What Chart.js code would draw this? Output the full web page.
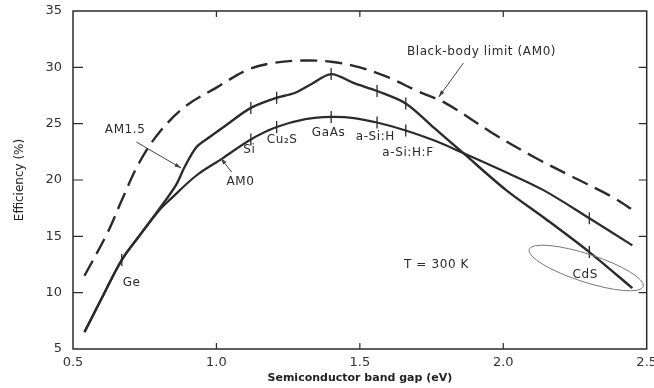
<!DOCTYPE html>
<html>
<head>
<meta charset="utf-8">
<script src="https://cdn.jsdelivr.net/npm/chart.js@4.4.1/dist/chart.umd.min.js"></script>
<style>
  html, body { margin: 0; padding: 0; background: #fff; }
  #wrap { width: 654px; height: 388px; }
</style>
</head>
<body>
<div id="wrap"><canvas id="myChart" width="654" height="388"></canvas></div>
<script>
// curva de cuerpo negro (discontinua)
const bbX = [0.54, 0.62, 0.67, 0.73, 0.80, 0.89, 1.00, 1.11, 1.20, 1.30, 1.40, 1.50, 1.60, 1.70, 1.80, 1.96, 2.11, 2.24, 2.38, 2.46]
const bbY = [11.5, 15.3, 18.2, 21.5, 24.2, 26.5, 28.2, 29.8, 30.4, 30.6, 30.5, 30.0, 29.1, 27.9, 26.8, 24.2, 22.0, 20.3, 18.5, 17.2]

// AM1.5
const am15X = [0.54, 0.60, 0.67, 0.73, 0.80, 0.86, 0.89, 0.93, 0.97, 1.03, 1.12, 1.21, 1.27, 1.33, 1.40, 1.48, 1.56, 1.66, 1.76, 1.86, 2.01, 2.15, 2.30, 2.45]
const am15Y = [6.5, 9.5, 12.9, 15.0, 17.4, 19.6, 21.2, 22.9, 23.7, 24.8, 26.4, 27.3, 27.7, 28.5, 29.4, 28.6, 27.9, 26.8, 24.6, 22.4, 19.1, 16.5, 13.6, 10.4]

// AM0
const am0X = [0.54, 0.60, 0.67, 0.73, 0.80, 0.84, 0.93, 1.02, 1.12, 1.21, 1.31, 1.40, 1.48, 1.56, 1.66, 1.76, 1.86, 2.00, 2.14, 2.30, 2.45]
const am0Y = [6.5, 9.5, 12.9, 15.0, 17.3, 18.3, 20.4, 21.9, 23.6, 24.7, 25.4, 25.6, 25.5, 25.1, 24.4, 23.5, 22.4, 20.8, 19.1, 16.6, 14.2]

// marcas de materiales sobre las curvas
const matX = [0.67, 1.12, 1.21, 1.40, 1.56, 1.66, 2.30, 1.12, 1.21, 1.40, 1.56, 1.66, 2.30]
const matY = [12.9, 26.4, 27.3, 29.4, 27.9, 26.8, 13.6, 23.6, 24.7, 25.6, 25.1, 24.4, 16.6]

// ejes
const xTicks = [0.5, 1.0, 1.5, 2.0, 2.5]
const yTicks = [5, 10, 15, 20, 25, 30, 35]

// textos del grafico [texto, x, y, alineacion]
const etiquetas = [
  ['Black-body limit (AM0)', 1.664, 31.36, 'left'],
  ['AM1.5', 0.611, 24.44, 'left'],
  ['AM0', 1.035, 19.82, 'left'],
  ['Si', 1.115, 22.66, 'center'],
  ['Cu\u2082S', 1.229, 23.55, 'center'],
  ['GaAs', 1.391, 24.17, 'center'],
  ['a-Si:H', 1.554, 23.8, 'center'],
  ['a-Si:H:F', 1.668, 22.4, 'center'],
  ['Ge', 0.673, 10.86, 'left'],
  ['T = 300 K', 1.654, 12.46, 'left'],
  ['CdS', 2.286, 11.57, 'center']
]

// flechas [x0, y0, x1, y1]
const flechas = [
  [1.861, 30.38, 1.775, 27.37],
  [0.721, 23.37, 0.877, 21.06],
  [1.053, 20.71, 1.015, 21.95]
]

function puntos(xs, ys) {
  return xs.map((x, i) => ({x: x, y: ys[i]}))
}

const tinta = '#2b2b2b'

const extras = {
  id: 'extras',
  afterDraw(chart) {
    const ctx = chart.ctx
    const a = chart.chartArea
    const sx = chart.scales.x
    const sy = chart.scales.y
    ctx.save()
    // marco
    ctx.strokeStyle = tinta
    ctx.lineWidth = 1.5
    ctx.strokeRect(a.left, a.top, a.right - a.left, a.bottom - a.top)
    // marcas hacia dentro
    ctx.lineWidth = 1.2
    ctx.beginPath()
    yTicks.slice(1, -1).forEach(v => {
      const p = sy.getPixelForValue(v)
      ctx.moveTo(a.left, p); ctx.lineTo(a.left + 10, p)
      ctx.moveTo(a.right, p); ctx.lineTo(a.right - 8, p)
    })
    xTicks.slice(1, -1).forEach(v => {
      const p = sx.getPixelForValue(v)
      ctx.moveTo(p, a.top); ctx.lineTo(p, a.top + 6)
      ctx.moveTo(p, a.bottom); ctx.lineTo(p, a.bottom - 6)
    })
    ctx.stroke()

    // textos
    ctx.fillStyle = '#2a2a2a'
    ctx.font = '12px "DejaVu Sans"'
    ctx.letterSpacing = '0.6px'
    ctx.textBaseline = 'middle'
    etiquetas.forEach(e => {
      ctx.textAlign = e[3]
      ctx.fillText(e[0], sx.getPixelForValue(e[1]), sy.getPixelForValue(e[2]))
    })
    ctx.letterSpacing = '0px'

    // flechas
    ctx.strokeStyle = '#444'
    ctx.fillStyle = '#444'
    ctx.lineWidth = 1
    flechas.forEach(f => {
      const x0 = sx.getPixelForValue(f[0]), y0 = sy.getPixelForValue(f[1])
      const x1 = sx.getPixelForValue(f[2]), y1 = sy.getPixelForValue(f[3])
      const ang = Math.atan2(y1 - y0, x1 - x0)
      ctx.beginPath()
      ctx.moveTo(x0, y0); ctx.lineTo(x1, y1)
      ctx.stroke()
      ctx.beginPath()
      ctx.moveTo(x1, y1)
      ctx.lineTo(x1 - 7 * Math.cos(ang - 0.3), y1 - 7 * Math.sin(ang - 0.3))
      ctx.lineTo(x1 - 7 * Math.cos(ang + 0.3), y1 - 7 * Math.sin(ang + 0.3))
      ctx.closePath()
      ctx.fill()
    })

    // elipse de CdS
    ctx.strokeStyle = '#777'
    ctx.lineWidth = 1
    ctx.beginPath()
    ctx.ellipse(sx.getPixelForValue(2.289), sy.getPixelForValue(12.19), 60, 14, 18 * Math.PI / 180, 0, 2 * Math.PI)
    ctx.stroke()
    ctx.restore()
  }
}

const ctx = document.getElementById('myChart')

const grafico = new Chart(ctx, {
  type: 'line',
  data: {
    datasets: [
      {
        label: 'Black-body limit (AM0)',
        data: puntos(bbX, bbY),
        borderColor: tinta,
        borderWidth: 2.4,
        borderDash: [17, 8],
        pointRadius: 0,
        tension: 0.35,
        fill: false
      },
      {
        label: 'AM1.5',
        data: puntos(am15X, am15Y),
        borderColor: tinta,
        borderWidth: 2.4,
        pointRadius: 0,
        tension: 0.3,
        fill: false
      },
      {
        label: 'AM0',
        data: puntos(am0X, am0Y),
        borderColor: tinta,
        borderWidth: 2.2,
        pointRadius: 0,
        tension: 0.35,
        fill: false
      },
      {
        type: 'scatter',
        label: 'materiales',
        data: puntos(matX, matY),
        showLine: false,
        pointStyle: 'line',
        rotation: 90,
        radius: 6,
        borderColor: tinta,
        borderWidth: 1.3
      }
    ]
  },
  options: {
    responsive: false,
    animation: false,
    devicePixelRatio: 1,
    layout: { padding: { top: 11, right: 2, left: 0, bottom: 0 } },
    plugins: { legend: { display: false }, tooltip: { enabled: false } },
    scales: {
      x: {
        type: 'linear',
        min: 0.5,
        max: 2.5,
        afterBuildTicks: s => { s.ticks = xTicks.map(v => ({value: v})) },
        afterFit: s => { s.height = 39; s.paddingLeft = 0; s.paddingRight = 0 },
        grid: { display: false, drawTicks: false },
        border: { display: false },
        ticks: {
          color: '#333',
          font: { family: 'DejaVu Sans', size: 13 },
          padding: 6,
          callback: v => v.toFixed(1)
        },
        title: {
          display: true,
          text: 'Semiconductor band gap (eV)',
          color: '#222',
          font: { family: 'DejaVu Sans', size: 11, weight: 'bold' },
          padding: { top: 0, bottom: 3 }
        }
      },
      y: {
        type: 'linear',
        min: 5,
        max: 35,
        afterBuildTicks: s => { s.ticks = yTicks.map(v => ({value: v})) },
        afterFit: s => { s.width = 73; s.paddingTop = 0; s.paddingBottom = 0 },
        grid: { display: false, drawTicks: false },
        border: { display: false },
        ticks: {
          color: '#333',
          font: { family: 'DejaVu Sans', size: 13 },
          padding: 11
        },
        title: {
          display: true,
          text: 'Efficiency (%)',
          color: '#222',
          font: { family: 'DejaVu Sans', size: 12 },
          padding: { top: 13, bottom: 0 }
        }
      }
    }
  },
  plugins: [extras]
})
</script>
</body>
</html>
